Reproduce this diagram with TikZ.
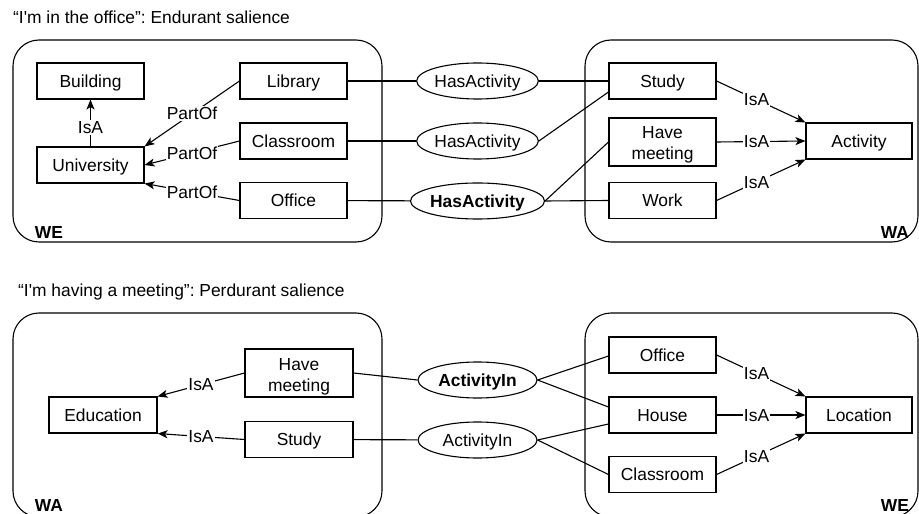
\documentclass[tikz,border=0pt]{standalone}
\usepackage{fontspec}
\setmainfont{Liberation Sans}
\usetikzlibrary{shapes.geometric,arrows.meta,calc}

\begin{document}
\frenchspacing
\begin{tikzpicture}[x=1bp,y=-1bp,
  every node/.style={font=\fontsize{17.4bp}{21bp}\selectfont},
  box/.style={draw, line width=1.1bp, minimum width=107bp, minimum height=36bp,
    inner sep=0pt, text height=12.5bp, text depth=0pt},
  tallbox/.style={draw, line width=1.1bp, minimum width=107bp, minimum height=48bp,
    inner sep=0pt, align=center, text height=37bp, text depth=1bp},
  rel/.style={draw, ellipse, line width=1.1bp, minimum width=119bp, minimum height=36bp,
    inner sep=0pt, text height=12.5bp, text depth=0pt},
  relbold/.style={rel, font=\fontsize{17.4bp}{21bp}\selectfont\bfseries},
  world/.style={draw, line width=1.1bp, rounded corners=26bp},
  link/.style={line width=1.1bp},
  isa/.style={line width=1.1bp, -{Stealth[length=10bp,width=8bp,inset=2.5bp]}},
  lab/.style={fill=white, inner sep=1bp, text height=12.5bp, text depth=0pt},
  tag/.style={font=\fontsize{17.4bp}{21bp}\selectfont\bfseries, inner sep=0pt,
    text height=12.5bp, text depth=0pt},
  heading/.style={anchor=west, inner sep=0pt, text height=12.5bp, text depth=0pt}
]
\useasboundingbox (0,0) rectangle (919,514);

% ---------- upper scenario ----------
\node[heading] (titleA) at (13,17.5) {“I\textquotesingle m in the office”: Endurant salience};
\draw[world] (13,40) rectangle (382,242);
\draw[world] (585,40) rectangle (918,242);
\node[tag] (weA) at (49,232) {WE};
\node[tag] (waA) at (895,232) {WA};

\node[box] (building) at (90.5,81) {Building};
\node[box] (university) at (90.5,165) {University};
\node[box] (library) at (293.5,81) {Library};
\node[box] (classroomA) at (293.5,141) {Classroom};
\node[box] (officeA) at (293.5,200.5) {Office};
\node[rel] (hasA) at (477.5,81) {HasActivity};
\node[rel] (hasB) at (477.5,141) {HasActivity};
\node[relbold] (hasC) at (477.5,201) {HasActivity};
\node[box] (studyA) at (662.5,81) {Study};
\node[tallbox] (meetingA) at (662.5,142) {Have\\meeting};
\node[box] (work) at (662.5,200.5) {Work};
\node[box, minimum width=106bp] (activity) at (859,141) {Activity};

\draw[isa] (university.north) -- node[lab, pos=0.4] {IsA} (building.south);
\draw[isa] (library.west) -- node[lab] {PartOf} (university.north east);
\draw[isa] (classroomA.west) -- node[lab] {PartOf} (university.east);
\draw[isa] (officeA.west) -- node[lab] {PartOf} (university.south east);

\draw[link] (library) -- (hasA);
\draw[link] (hasA) -- (studyA);
\draw[link] (classroomA) -- (hasB);
\draw[link] (hasB.east) -- ($(studyA.west)+(0,11)$);
\draw[link] (officeA) -- (hasC);
\draw[link] (hasC.east) -- (meetingA.west);
\draw[link] (hasC.east) -- (work.west);

\draw[isa] (studyA.east) -- node[lab, pos=0.45] {IsA} (activity.north west);
\draw[isa] (meetingA.east) -- node[lab, pos=0.45] {IsA} (activity.west);
\draw[isa] (work.east) -- node[lab, pos=0.45] {IsA} (activity.south west);

% ---------- lower scenario ----------
\node[heading] (titleB) at (18,290) {“I\textquotesingle m having a meeting”: Perdurant salience};
\draw[world] (13,313) rectangle (382,517);
\draw[world] (585,313) rectangle (918,517);
\node[tag] (waB) at (49,505) {WA};
\node[tag] (weB) at (895,505) {WE};

\node[box, minimum width=108bp] (education) at (103,415) {Education};
\node[tallbox, minimum width=108bp] (meetingB) at (299,373) {Have\\meeting};
\node[box, minimum width=108bp] (studyB) at (299,439.5) {Study};
\node[relbold] (inA) at (477.5,380) {ActivityIn};
\node[rel] (inB) at (477.5,440) {ActivityIn};
\node[box] (officeB) at (662.5,355) {Office};
\node[box] (house) at (662.5,415) {House};
\node[box] (classroomB) at (662.5,474.5) {Classroom};
\node[box, minimum width=106bp] (location) at (859,415) {Location};

\draw[isa] (meetingB.west) -- node[lab] {IsA} (education.north east);
\draw[isa] (studyB.west) -- node[lab] {IsA} (education.south east);

\draw[link] (meetingB.east) -- (inA.west);
\draw[link] (studyB) -- (inB);
\draw[link] (inA.east) -- ($(officeB.west)+(0,1)$);
\draw[link] (inA.east) -- ($(house.west)+(0,-8)$);
\draw[link] (inB.east) -- ($(house.west)+(0,9)$);
\draw[link] (inB.east) -- (classroomB.west);

\draw[isa] (officeB.east) -- node[lab, pos=0.45] {IsA} (location.north west);
\draw[isa] (house) -- node[lab, pos=0.45] {IsA} (location);
\draw[isa] (classroomB.east) -- node[lab, pos=0.45] {IsA} (location.south west);
\end{tikzpicture}
\end{document}
